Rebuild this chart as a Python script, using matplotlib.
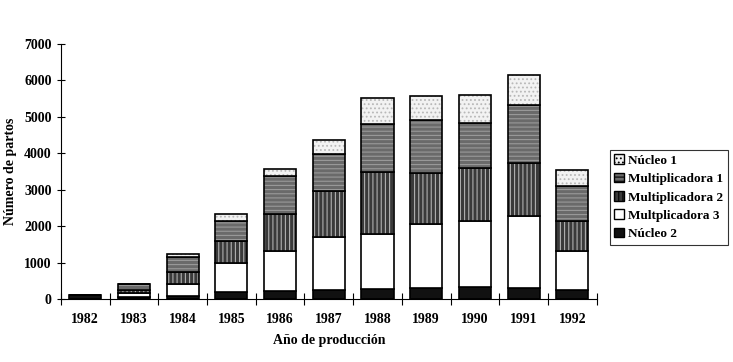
import numpy as np
import matplotlib
matplotlib.use('Agg')
import matplotlib.pyplot as plt
from matplotlib.patches import Patch

years = ['1982', '1983', '1984', '1985', '1986', '1987', '1988', '1989', '1990', '1991', '1992']
nucleo_2 = [100, 60, 90, 180, 230, 250, 265, 290, 320, 310, 245]
multiplicadora_3 = [0, 95, 320, 795, 1090, 1455, 1530, 1760, 1830, 1960, 1075]
multiplicadora_2 = [0, 90, 335, 610, 1025, 1260, 1685, 1415, 1450, 1455, 830]
multiplicadora_1 = [0, 165, 410, 555, 1030, 1010, 1325, 1450, 1240, 1605, 940]
nucleo_1 = [0, 0, 75, 200, 200, 400, 700, 665, 765, 820, 435]

series = [
    ('Núcleo 2', nucleo_2, '#111111', None, '#111111'),
    ('Multplicadora 3', multiplicadora_3, 'white', None, 'white'),
    ('Multiplicadora 2', multiplicadora_2, '#3a3a3a', '||||', '#b0b0b0'),
    ('Multiplicadora 1', multiplicadora_1, '#6a6a6a', '----', '#9a9a9a'),
    ('Núcleo 1', nucleo_1, '#f2f2f2', '....', '#b8b8b8'),
]

plt.rcParams['font.family'] = ['Liberation Serif', 'DejaVu Serif']
plt.rcParams['hatch.linewidth'] = 0.8

fig = plt.figure(figsize=(7.33, 3.62), dpi=100)
ax = fig.add_axes([0.083, 0.174, 0.731, 0.705])

x = np.arange(len(years))
bottom = np.zeros(len(years))
width = 0.66
for name, vals, face, hatch, hcol in series:
    vals = np.array(vals, dtype=float)
    # fill + hatch first, then black outline on top
    ax.bar(x, vals, width, bottom=bottom, color=face, edgecolor=hcol,
           hatch=hatch, linewidth=0)
    ax.bar(x, vals, width, bottom=bottom, fill=False, edgecolor='black',
           linewidth=1.2)
    bottom += vals

ax.set_xlim(-0.5, len(years) - 0.5)
ax.set_ylim(0, 7000)
ax.set_yticks(range(0, 7001, 1000))
ax.set_xticks(x)
ax.set_xticklabels(years)
ax.set_xticks(np.arange(-0.5, len(years)), minor=True)
ax.tick_params(axis='x', which='major', length=0, pad=10, labelsize=10)
ax.tick_params(axis='x', which='minor', direction='inout', length=8, width=0.8)
ax.tick_params(axis='y', direction='inout', length=6, width=0.8, labelsize=10)

for side in ['top', 'right']:
    ax.spines[side].set_visible(False)
ax.spines['left'].set_linewidth(0.8)
ax.spines['bottom'].set_linewidth(0.8)

ax.set_ylabel('Número de partos', fontsize=10, fontweight='bold', labelpad=5)
ax.set_xlabel('Año de producción', fontsize=10, fontweight='bold', labelpad=6)
for lbl in ax.get_xticklabels() + ax.get_yticklabels():
    lbl.set_fontweight('bold')

handles = []
for name, vals, face, hatch, hcol in reversed(series):
    handles.append(Patch(facecolor=face, edgecolor='black', hatch=hatch,
                         linewidth=1.0, label=name))
leg = fig.legend(handles=handles, loc='center left', bbox_to_anchor=(0.832, 0.455),
                 borderaxespad=0, frameon=True, fancybox=False, edgecolor='black',
                 handlelength=0.75, handleheight=0.75, handletextpad=0.3,
                 labelspacing=0.45, borderpad=0.35, prop={'weight': 'bold', 'size': 9.5})
leg.get_frame().set_linewidth(0.8)

fig.savefig('out.png', dpi=100)
